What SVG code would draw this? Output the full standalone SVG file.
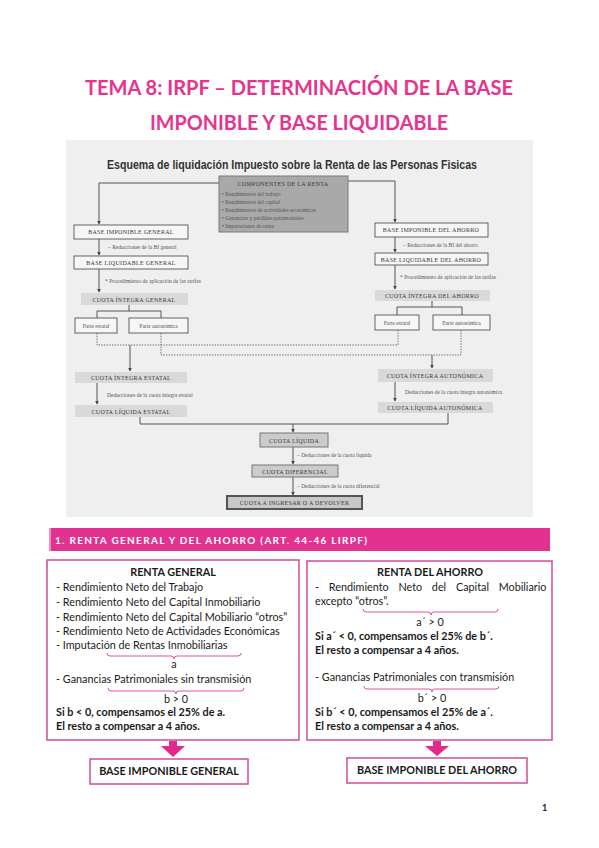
<svg xmlns="http://www.w3.org/2000/svg" width="599" height="848" viewBox="0 0 599 848">
<defs>
<style>
.title{font-family:Lato,"Open Sans",sans-serif;font-weight:700;font-size:21px;fill:#e5338e;text-anchor:middle}
.sch{font-family:"Liberation Serif",serif;fill:#3a3a3a}
.cap{font-size:6px;letter-spacing:0.3px;text-anchor:middle}
.note{font-size:5.5px;fill:#555}
.box{fill:#f6f6f6;stroke:#555;stroke-width:0.9}
.cq{fill:#d9d9d9}
.cq2{fill:#cbcbcb;stroke:#777;stroke-width:1}
.ln{fill:none;stroke:#444;stroke-width:0.9}
.dash{fill:none;stroke:#555;stroke-width:0.8;stroke-dasharray:1.5 1.2}
.body{font-family:Lato,"Open Sans",sans-serif;font-size:10.8px;fill:#1a1a1a}
.b{font-weight:700}
.mid{text-anchor:middle}
.pbox{fill:#fff;stroke:#d4579d;stroke-width:1.6}
.brace{fill:none;stroke:#e0559f;stroke-width:1}
.parrow{fill:#e3288c}
</style>
<marker id="ah" viewBox="0 0 6 6" refX="5" refY="3" markerWidth="4" markerHeight="4" orient="auto">
<path d="M0,0 L6,3 L0,6 z" fill="#444"/>
</marker>
</defs>
<rect width="599" height="848" fill="#fff"/>

<g id="title">
<text class="title" x="299" y="95" textLength="428" lengthAdjust="spacingAndGlyphs">TEMA 8: IRPF – DETERMINACIÓN DE LA BASE</text>
<text class="title" x="299" y="130" textLength="298" lengthAdjust="spacingAndGlyphs">IMPONIBLE Y BASE LIQUIDABLE</text>
</g>

<g id="scheme">
<rect x="66" y="140" width="467" height="377" fill="#efefef"/>
<text x="292" y="169" font-family="'Liberation Sans',sans-serif" font-weight="700" font-size="12.5" fill="#333" text-anchor="middle" textLength="370" lengthAdjust="spacingAndGlyphs">Esquema de liquidación Impuesto sobre la Renta de las Personas Fisicas</text>
</g>

<g id="connectors">
<path class="ln" d="M219,183 H99 V224" marker-end="url(#ah)"/>
<path class="ln" d="M348,181 H395 V222" marker-end="url(#ah)"/>
<path class="ln" d="M99,239 V255" marker-end="url(#ah)"/>
<path class="ln" d="M395,237 V252" marker-end="url(#ah)"/>
<path class="ln" d="M99,269 V292" marker-end="url(#ah)"/>
<path class="ln" d="M395,265 V289" marker-end="url(#ah)"/>
<path class="ln" d="M129,305 V311 M97,318 V311 H161 V318"/>
<path class="ln" d="M432,301 V307 M397,315 V307 H462 V315"/>
<path class="dash" d="M97,333 V345 H398 V330"/>
<path class="dash" d="M161,333 V355 H461 V330"/>
<path class="ln" d="M130,345 V371" marker-end="url(#ah)"/>
<path class="ln" d="M432,355 V368" marker-end="url(#ah)"/>
<path class="ln" d="M97,383 V404" marker-end="url(#ah)"/>
<path class="ln" d="M395,382 V401" marker-end="url(#ah)"/>
<path class="ln" d="M140,417 V424 H448 V413"/>
<path class="ln" d="M293,424 V432" marker-end="url(#ah)"/>
<path class="ln" d="M293,447 V464" marker-end="url(#ah)"/>
<path class="ln" d="M293,477 V495" marker-end="url(#ah)"/>
</g>

<g id="componentes" class="sch">
<rect x="219" y="176" width="129" height="56" fill="#a9a9a9" stroke="#7a7a7a" stroke-width="1"/>
<text class="cap" x="283" y="186" font-size="5.5">COMPONENTES DE LA RENTA</text>
<g class="note" fill="#4a4a4a">
<text x="222" y="196">• Rendimientos del trabajo</text>
<text x="222" y="204">• Rendimientos del capital</text>
<text x="222" y="212">• Rendimientos de actividades económicas</text>
<text x="222" y="220">• Ganancias y pérdidas patrimoniales</text>
<text x="222" y="228">• Imputaciones de renta</text>
</g>
</g>

<g id="bi-general" class="sch">
<rect class="box" x="74" y="225" width="114" height="14"/>
<text class="cap" x="131" y="234">BASE IMPONIBLE GENERAL</text>
<text class="note" x="108" y="249">– Reducciones de la BI general</text>
</g>
<g id="bl-general" class="sch">
<rect class="box" x="74" y="256" width="114" height="13"/>
<text class="cap" x="131" y="265">BASE LIQUIDABLE GENERAL</text>
<text class="note" x="105" y="283">* Procedimiento de aplicación de las tarifas</text>
</g>
<g id="ci-general" class="sch">
<rect class="cq" x="81" y="293" width="107" height="12"/>
<text class="cap" x="134" y="301.5">CUOTA ÍNTEGRA GENERAL</text>
</g>
<g id="pe-general" class="sch">
<rect class="box" x="75" y="318" width="42" height="15"/>
<text class="note" x="96" y="327.5" text-anchor="middle">Parte estatal</text>
</g>
<g id="pa-general" class="sch">
<rect class="box" x="129" y="318" width="59" height="15"/>
<text class="note" x="158.5" y="327.5" text-anchor="middle">Parte autonómica</text>
</g>

<g id="bi-ahorro" class="sch">
<rect class="box" x="375" y="223" width="113" height="14"/>
<text class="cap" x="431" y="232">BASE IMPONIBLE DEL AHORRO</text>
<text class="note" x="403" y="247">– Reducciones de la BI del ahorro</text>
</g>
<g id="bl-ahorro" class="sch">
<rect class="box" x="375" y="253" width="113" height="12"/>
<text class="cap" x="431" y="261.5">BASE LIQUIDABLE DEL AHORRO</text>
<text class="note" x="400" y="279">* Procedimiento de aplicación de las tarifas</text>
</g>
<g id="ci-ahorro" class="sch">
<rect class="cq" x="375" y="290" width="115" height="11"/>
<text class="cap" x="432" y="298">CUOTA ÍNTEGRA DEL AHORRO</text>
</g>
<g id="pe-ahorro" class="sch">
<rect class="box" x="375" y="315" width="44" height="15"/>
<text class="note" x="397" y="324.5" text-anchor="middle">Parte estatal</text>
</g>
<g id="pa-ahorro" class="sch">
<rect class="box" x="433" y="315" width="57" height="15"/>
<text class="note" x="461.5" y="324.5" text-anchor="middle">Parte autonómica</text>
</g>

<g id="ci-estatal" class="sch">
<rect class="cq" x="75" y="372" width="112" height="11"/>
<text class="cap" x="131" y="380">CUOTA ÍNTEGRA ESTATAL</text>
<text class="note" x="107" y="397">Deducciones de la cuota íntegra estatal</text>
</g>
<g id="cl-estatal" class="sch">
<rect class="cq" x="75" y="405" width="112" height="12"/>
<text class="cap" x="131" y="413.5">CUOTA LÍQUIDA ESTATAL</text>
</g>
<g id="ci-autonomica" class="sch">
<rect class="cq" x="378" y="369" width="115" height="13"/>
<text class="cap" x="435" y="378">CUOTA ÍNTEGRA AUTONÓMICA</text>
<text class="note" x="405" y="394">Deducciones de la cuota íntegra autonómica</text>
</g>
<g id="cl-autonomica" class="sch">
<rect class="cq" x="378" y="402" width="115" height="11"/>
<text class="cap" x="435" y="410">CUOTA LÍQUIDA AUTONÓMICA</text>
</g>

<g id="cuota-liquida" class="sch">
<rect class="cq2" x="260" y="433" width="68" height="14"/>
<text class="cap" x="294" y="442.5">CUOTA LÍQUIDA</text>
<text class="note" x="297" y="457">– Deducciones de la cuota líquida</text>
</g>
<g id="cuota-diferencial" class="sch">
<rect class="cq2" x="252" y="465" width="86" height="12"/>
<text class="cap" x="295" y="473.5">CUOTA DIFERENCIAL</text>
<text class="note" x="297" y="488">– Deducciones de la cuota diferencial</text>
</g>
<g id="cuota-ingresar" class="sch">
<rect x="227" y="496" width="135" height="13" fill="#c8c8c8" stroke="#555" stroke-width="2"/>
<text class="cap" x="294.5" y="505" font-size="5.8">CUOTA A INGRESAR O A DEVOLVER</text>
</g>

<g id="header">
<rect x="49" y="528" width="501" height="23" fill="#e2328f"/>
<rect x="49" y="528" width="2" height="23" fill="#f08cc0"/>
<text x="55" y="543.5" font-family="Lato,'Open Sans',sans-serif" font-weight="700" font-size="10" fill="#fff" letter-spacing="1" textLength="313">1. RENTA GENERAL Y DEL AHORRO (ART. 44-46 LIRPF)</text>
</g>

<g id="renta-general" class="body">
<rect class="pbox" x="47" y="560" width="252" height="180"/>
<text class="b mid" x="173" y="576">RENTA GENERAL</text>
<text x="56" y="591">- Rendimiento Neto del Trabajo</text>
<text x="56" y="606">- Rendimiento Neto del Capital Inmobiliario</text>
<text x="56" y="621">- Rendimiento Neto del Capital Mobiliario “otros”</text>
<text x="56" y="635">- Rendimiento Neto de Actividades Económicas</text>
<text x="56" y="649">- Imputación de Rentas Inmobiliarias</text>
<path class="brace" d="M107,653 Q107,656 110,656 H171 Q174,656 174,659 Q174,656 177,656 H238 Q241,656 241,653"/>
<text class="mid" x="174" y="668">a</text>
<text x="56" y="683">- Ganancias Patrimoniales sin transmisión</text>
<path class="brace" d="M108,688 Q108,691 111,691 H173 Q176,691 176,694 Q176,691 179,691 H241 Q244,691 244,688"/>
<text class="mid" x="176" y="703">b &gt; 0</text>
<text class="b" x="56" y="716">Si b &lt; 0, compensamos el 25% de a.</text>
<text class="b" x="56" y="730">El resto a compensar a 4 años.</text>
</g>

<g id="renta-ahorro" class="body">
<rect class="pbox" x="307" y="561" width="245" height="179"/>
<text class="b mid" x="430" y="576">RENTA DEL AHORRO</text>
<text x="315" y="591" word-spacing="7">- Rendimiento Neto del Capital Mobiliario</text>
<text x="315" y="605">excepto “otros”.</text>
<path class="brace" d="M363,609 Q363,612 366,612 H428 Q431,612 431,615 Q431,612 434,612 H495 Q498,612 498,609"/>
<text class="mid" x="430" y="626">a´ &gt; 0</text>
<text class="b" x="315" y="640">Si a´ &lt; 0, compensamos el 25% de b´.</text>
<text class="b" x="315" y="654">El resto a compensar a 4 años.</text>
<text x="315" y="681">- Ganancias Patrimoniales con transmisión</text>
<path class="brace" d="M364,686 Q364,689 367,689 H429 Q432,689 432,692 Q432,689 435,689 H496 Q499,689 499,686"/>
<text class="mid" x="432" y="702">b´ &gt; 0</text>
<text class="b" x="315" y="716">Si b´ &lt; 0, compensamos el 25% de a´.</text>
<text class="b" x="315" y="730">El resto a compensar a 4 años.</text>
</g>

<g id="arrows-pink">
<polygon class="parrow" points="169,741 177,741 177,746 185,746 173,757 161,746 169,746"/>
<polygon class="parrow" points="433,741 441,741 441,746 449,746 437,756 425,746 433,746"/>
</g>

<g id="bi-general-result" class="body">
<rect class="pbox" x="90" y="759" width="158" height="25"/>
<text class="b mid" x="169" y="775">BASE IMPONIBLE GENERAL</text>
</g>
<g id="bi-ahorro-result" class="body">
<rect class="pbox" x="347" y="758" width="180" height="25"/>
<text class="b mid" x="437" y="774">BASE IMPONIBLE DEL AHORRO</text>
</g>

<text x="542" y="811" font-family="Lato,'Open Sans',sans-serif" font-weight="700" font-size="9" fill="#222">1</text>
</svg>
